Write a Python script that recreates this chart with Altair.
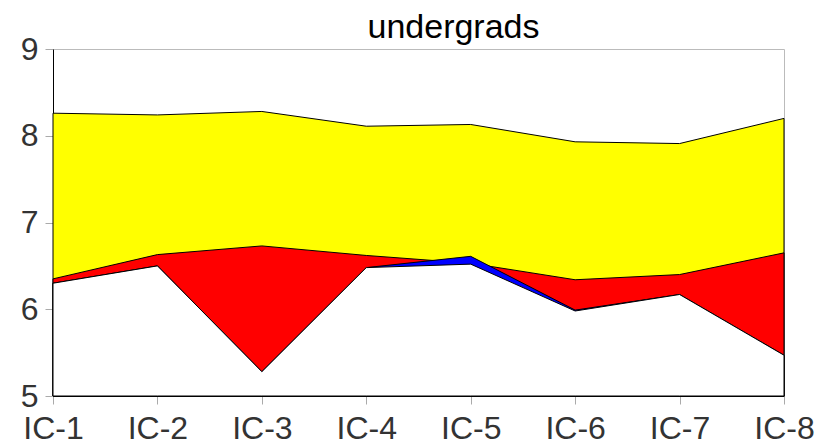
import altair as alt
import pandas as pd

categories = ["IC-1", "IC-2", "IC-3", "IC-4", "IC-5", "IC-6", "IC-7", "IC-8"]
yellow_top = [8.26, 8.24, 8.28, 8.11, 8.13, 7.93, 7.91, 8.20]
red_top = [6.35, 6.63, 6.73, 6.62, 6.53, 6.34, 6.40, 6.65]
blue_top = [6.30, 6.50, 5.28, 6.48, 6.61, 5.99, 6.17, 5.47]
base_line = [6.30, 6.50, 5.28, 6.48, 6.52, 5.98, 6.17, 5.47]

series = [
    ("yellow", yellow_top, "#ffff00"),
    ("red", red_top, "#ff0000"),
    ("blue", blue_top, "#0000ff"),
    ("base", base_line, "#ffffff"),
]

FONT = "Liberation Sans"

layers = []
for name, vals, col in series:
    df = pd.DataFrame({"cat": categories, "v": vals})
    layer = alt.Chart(df).mark_area(
        color=col, fill=col, stroke="black", strokeWidth=1, opacity=1
    ).encode(
        x=alt.X("cat:O", sort=categories, scale=alt.Scale(padding=0),
                axis=alt.Axis(title=None, labelAngle=0, labelPadding=9)),
        y=alt.Y("v:Q", scale=alt.Scale(domain=[5, 9], zero=False, nice=False),
                axis=alt.Axis(title=None, values=[5, 6, 7, 8, 9], format="d",
                              labelPadding=7)),
        y2=alt.datum(5),
    )
    layers.append(layer)

chart = alt.layer(*layers).properties(
    width=731,
    height=347,
    autosize=alt.AutoSizeParams(type="none"),
    padding={"left": 53, "top": 49, "right": 50, "bottom": 52},
    title=alt.TitleParams(
        "undergrads", fontSize=34, font=FONT, fontWeight="normal",
        color="black", anchor="middle", dx=35, dy=20, offset=8,
    ),
    background="white",
).configure_view(
    stroke="#bbbbbb", strokeWidth=1
).configure_axis(
    grid=False,
    domainColor="black",
    domainWidth=1,
    tickColor="#aaaaaa",
    tickSize=8,
    labelFont=FONT,
    labelFontSize=32,
    labelColor="#333333",
)

chart.save("out.html", embed_options={"renderer": "svg", "actions": False})
